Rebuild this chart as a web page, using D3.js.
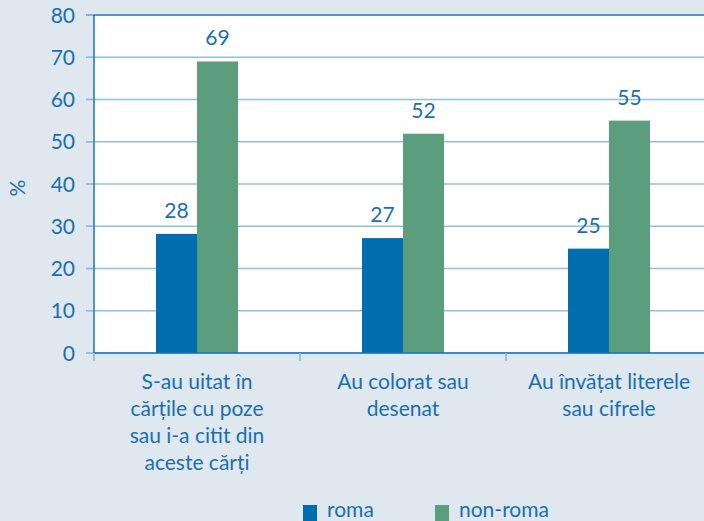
<!DOCTYPE html>
<html><head><meta charset="utf-8">
<script src="https://cdn.jsdelivr.net/npm/d3@7"></script>
<style>body{margin:0;background:#dfe7ef;}svg{display:block;}</style>
</head><body>
<script>
const categories = [
  ["S-au uitat în","cărțile cu poze","sau i-a citit din","aceste cărți"],
  ["Au colorat sau","desenat"],
  ["Au învățat literele","sau cifrele"]
];
const seriesNames = ["roma","non-roma"];
const roma = [28.2, 27.2, 24.7];
const nonRoma = [69.0, 51.9, 55.0];
const yTicks = [0,10,20,30,40,50,60,70,80];
const colors = ["#006eae","#5a9e7e"];
const textColor = "#1a6fb0";
const font = "Lato, 'Open Sans', sans-serif";

(function(){
const W=704,H=521;
const svg=d3.select("body").append("svg").attr("width",W).attr("height",H);
svg.append("rect").attr("width",W).attr("height",H).attr("fill","#dfe7ef");
const pL=94, pT=15, pB=353, pR=712;
const x=d3.scaleBand().domain(d3.range(categories.length)).range([pL,pR]);
const y=d3.scaleLinear().domain([0,80]).range([pB,pT]);
svg.append("rect").attr("x",pL).attr("y",pT).attr("width",pR-pL).attr("height",pB-pT).attr("fill","#fff");

const g=svg.append("g");
yTicks.forEach(t=>{
  g.append("line").attr("x1",86).attr("x2",pR).attr("y1",y(t)).attr("y2",y(t))
   .attr("stroke", t===80? "#1a75b5":"#8fc0de").attr("stroke-width",1.5);
  g.append("line").attr("x1",86).attr("x2",pL).attr("y1",y(t)).attr("y2",y(t))
   .attr("stroke","#8fc0de").attr("stroke-width",1.5);
  g.append("text").attr("x",75).attr("y",y(t)+7.5).attr("text-anchor","end")
   .attr("font-family",font).attr("font-size",21).attr("fill",textColor).text(t);
});

const bw=41;
const data=[roma,nonRoma];
data.forEach((s,si)=>{
  svg.selectAll(null).data(s).enter().append("rect")
   .attr("x",(d,i)=>x(i)+x.bandwidth()/2-bw+si*bw)
   .attr("y",d=>y(d)).attr("width",bw).attr("height",d=>pB-y(d))
   .attr("fill",colors[si]);
  svg.selectAll(null).data(s).enter().append("text")
   .attr("x",(d,i)=>x(i)+x.bandwidth()/2-bw/2+si*bw)
   .attr("y",d=>y(d)-16).attr("text-anchor","middle")
   .attr("font-family",font).attr("font-size",21).attr("fill",textColor)
   .text(d=>Math.round(d));
});

svg.append("line").attr("x1",pL).attr("x2",pL).attr("y1",pT).attr("y2",pB)
  .attr("stroke","#1a75b5").attr("stroke-width",1.5);
svg.append("line").attr("x1",pL).attr("x2",pR).attr("y1",pB).attr("y2",pB)
  .attr("stroke","#1a75b5").attr("stroke-width",1.5);
d3.range(categories.length+1).forEach(i=>{
  const xx = i<categories.length? x(i): pR;
  svg.append("line").attr("x1",xx).attr("x2",xx).attr("y1",pB).attr("y2",361)
   .attr("stroke","#8fb5d5").attr("stroke-width",1.5);
});

categories.forEach((lines,i)=>{
  const t=svg.append("text").attr("text-anchor","middle").attr("font-family",font)
   .attr("font-size",21).attr("fill",textColor);
  lines.forEach((l,j)=>t.append("tspan").attr("x",x(i)+x.bandwidth()/2).attr("y",389+j*27).text(l));
});

svg.append("text").attr("transform","translate(25,188) rotate(-90)").attr("text-anchor","middle")
 .attr("font-family",font).attr("font-size",21).attr("fill",textColor).text("%");

const legX=[303,435];
seriesNames.forEach((n,i)=>{
  svg.append("rect").attr("x",legX[i]).attr("y",505).attr("width",14).attr("height",16).attr("fill",colors[i]);
  svg.append("text").attr("x",legX[i]+24).attr("y",517).attr("font-family",font).attr("font-size",21)
   .attr("fill",textColor).text(n);
});
})();
</script>
</body></html>
